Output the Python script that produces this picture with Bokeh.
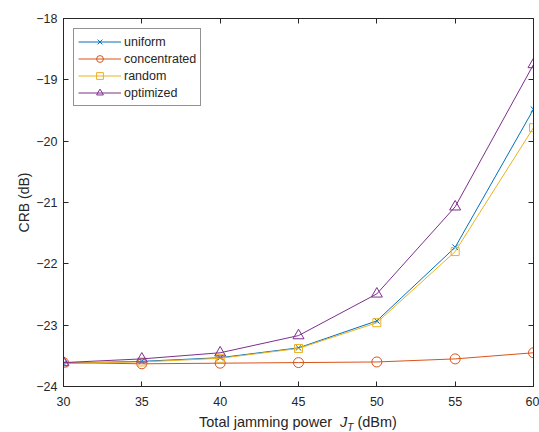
from bokeh.plotting import figure
from bokeh.models import (Range1d, LinearAxis, FixedTicker, Legend, LegendItem, Div)
from bokeh.layouts import column
from bokeh.embed import file_html
from bokeh.resources import INLINE

power = [30, 35, 40, 45, 50, 55, 60]
uniform = [-23.62, -23.59, -23.53, -23.37, -22.93, -21.73, -19.48]
concentrated = [-23.61, -23.63, -23.62, -23.61, -23.60, -23.55, -23.45]
random_ = [-23.62, -23.60, -23.54, -23.38, -22.96, -21.80, -19.78]
optimized = [-23.61, -23.55, -23.45, -23.17, -22.49, -21.07, -18.75]
x_ticks = [30, 35, 40, 45, 50, 55, 60]
y_ticks = [-24, -23, -22, -21, -20, -19, -18]

FONT = "Liberation Sans"
AX = "#262626"

p = figure(width=539, height=414, output_backend="svg", toolbar_location=None,
           x_range=Range1d(30, 60), y_range=Range1d(-24, -18),
           min_border_left=63, min_border_right=6, min_border_top=18, min_border_bottom=28,
           x_axis_location=None, y_axis_location=None)
p.xgrid.visible = False
p.ygrid.visible = False
p.outline_line_color = AX
p.background_fill_color = "white"
p.border_fill_color = "white"


def style_axis(ax, ticks, labels=True):
    ax.ticker = FixedTicker(ticks=ticks)
    ax.axis_line_color = AX
    ax.axis_line_width = 1
    ax.major_tick_line_color = AX
    ax.major_tick_in = 5
    ax.major_tick_out = 0
    ax.minor_tick_line_color = None
    if labels:
        ax.major_label_text_font = FONT
        ax.major_label_text_font_size = "12.5px"
        ax.major_label_text_color = AX
    else:
        ax.major_label_overrides = {t: "" for t in ticks}
        ax.major_label_standoff = 0


bx = LinearAxis()
style_axis(bx, x_ticks)
bx.major_label_standoff = 10
p.add_layout(bx, "below")

lx = LinearAxis()
style_axis(lx, y_ticks)
lx.major_label_standoff = 6
lx.axis_label = "CRB (dB)"
lx.axis_label_text_font = FONT
lx.axis_label_text_font_size = "14px"
lx.axis_label_text_font_style = "normal"
lx.axis_label_text_color = AX
lx.axis_label_standoff = 1
p.add_layout(lx, "left")

tx = LinearAxis()
style_axis(tx, x_ticks, labels=False)
p.add_layout(tx, "above")

rx = LinearAxis()
style_axis(rx, y_ticks, labels=False)
p.add_layout(rx, "right")

colors = ["#0072BD", "#D95319", "#EDB120", "#7E2F8E"]
series = [("uniform", uniform, "x", 8),
          ("concentrated", concentrated, "circle", 10),
          ("random", random_, "square", 8),
          ("optimized", optimized, "triangle", 11)]
items = []
for (name, ys, marker, size), c in zip(series, colors):
    lr = p.line(power, ys, line_color=c, line_width=1)
    sr = p.scatter(power, ys, marker=marker, size=size, line_color=c,
                   fill_color=None, line_width=1)
    items.append(LegendItem(label=name, renderers=[lr, sr]))

legend = Legend(items=items, location="top_left", margin=10,
                padding=4, spacing=0, glyph_width=43, glyph_height=17,
                label_height=17, label_standoff=3,
                label_text_font=FONT, label_text_font_size="12.5px",
                label_text_color=AX, border_line_color=AX, border_line_width=1,
                background_fill_color="white", background_fill_alpha=1)
p.add_layout(legend)

# x-axis label with italic J and subscript T, as real HTML text
xlabel = Div(
    text='Total jamming power&nbsp;&nbsp;<i>J</i><sub style="font-size:10px;font-style:italic">T</sub>&nbsp;(dBm)',
    width=482, height=18, margin=(0, 0, 0, 57),
    styles={"font-family": FONT, "font-size": "14.5px", "color": AX,
            "text-align": "center", "line-height": "16px"})

layout = column(p, xlabel, spacing=0)
open("out.html", "w").write(file_html(layout, INLINE))
